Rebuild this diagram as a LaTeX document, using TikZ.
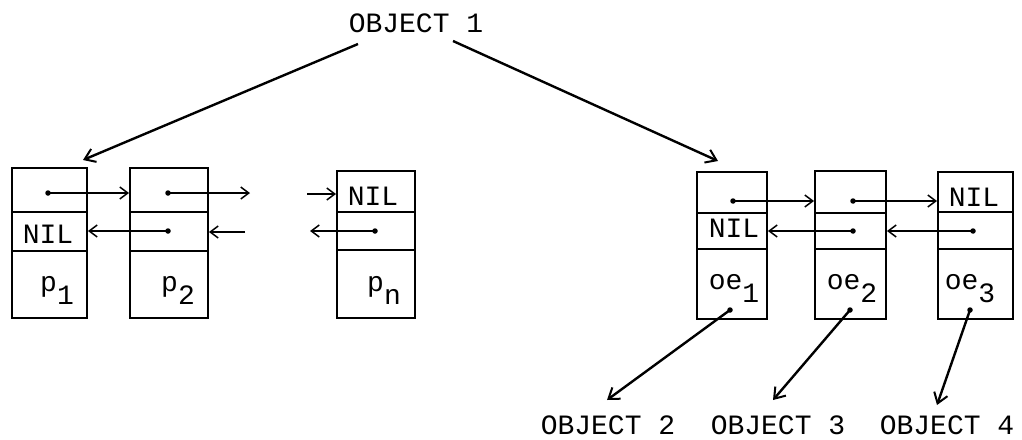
\documentclass[tikz,border=0pt]{standalone}
\usepackage{fontspec}
\setmonofont{Liberation Mono}
\usetikzlibrary{arrows.meta,fit}

% one list element: three stacked cells (pointer, back pointer, value)
\newcommand\listcell[7]{%
  \node[cell, fit={(#2,#4) (#3,#5)}] (#1t) {};
  \node[cell, fit={(#2,#5) (#3,#6)}] (#1m) {};
  \node[cell, fit={(#2,#6) (#3,#7)}] (#1b) {};}
% typewriter-style subscript: same size, dropped below the line
\newcommand\lowered[1]{\raisebox{-13pt}{#1}}

\tikzset{
  cell/.style={draw, line width=1.9pt, inner sep=0pt},
  tw/.style={font=\fontsize{28}{32}\selectfont\ttfamily, inner sep=0pt, anchor=base},
  dot/.style={circle, fill, inner sep=0pt, minimum size=5.5pt},
  ptr/.style={line width=1.5pt, -{Straight Barb[length=8pt,width=12pt,line width=1.5pt]}},
  bigptr/.style={line width=2.4pt, -{Straight Barb[length=10pt,width=14pt,line width=2pt]}},
}

\begin{document}
\begin{tikzpicture}[x=1pt,y=-1pt]
\useasboundingbox (0,0) rectangle (1022,439);

% property list of the object
\listcell{p1}{12}{87}{168}{212}{251}{318}
\listcell{p2}{130}{208}{168}{212}{251}{318}
\listcell{pn}{337}{415}{171}{212}{250}{318}

% list of object elements
\listcell{q1}{697}{767}{172}{213}{249}{319}
\listcell{q2}{815}{886}{171}{213}{249}{319}
\listcell{q3}{938}{1013}{172}{212}{249}{319}

% cell contents
\node[tw] (nil1) at (48,243) {NIL};
\node[tw] (nil2) at (373,205) {NIL};
\node[tw] (nil3) at (734,237) {NIL};
\node[tw] (nil4) at (974,206) {NIL};

\node[tw] (lp1) at (57,291) {p\lowered{1}};
\node[tw] (lp2) at (178,291) {p\lowered{2}};
\node[tw] (lpn) at (384,291) {p\lowered{n}};
\node[tw] (lq1) at (734,289) {oe\lowered{1}};
\node[tw] (lq2) at (852,289) {oe\lowered{2}};
\node[tw] (lq3) at (970,289) {oe\lowered{3}};

% object names
\node[tw] (o1) at (416,32) {OBJECT 1};
\node[tw] (o2) at (608,434) {OBJECT 2};
\node[tw] (o3) at (778,434) {OBJECT 3};
\node[tw] (o4) at (947,434) {OBJECT 4};

% pointer origins
\node[dot] (p1d) at (48,193) {};
\node[dot] (p2d) at (168,193) {};
\node[dot] (p2e) at (168,231) {};
\node[dot] (pne) at (375,231) {};
\node[dot] (q1d) at (733,201) {};
\node[dot] (q2d) at (853,201) {};
\node[dot] (q2e) at (853,231) {};
\node[dot] (q3e) at (973,231) {};
\node[dot] (r1) at (730,310) {};
\node[dot] (r2) at (850,310) {};
\node[dot] (r3) at (970,310) {};

% free ends of the broken chain
\coordinate (p2out) at (250,193);
\coordinate (pnin) at (307,194);
\coordinate (p2in) at (245,232);
\coordinate (pnout) at (310,231);

% forward and backward links, property list
\draw[ptr] (p1d.center) -- (p1d.center -| p2t.west);
\draw[ptr] (p2d.center) -- (p2out);
\draw[ptr] (pnin) -- (pnin -| pnt.west);
\draw[ptr] (p2e.center) -- (p2e.center -| p1m.east);
\draw[ptr] (p2in) -- (p2in -| p2m.east);
\draw[ptr] (pne.center) -- (pnout);

% forward and backward links, element list
\draw[ptr] (q1d.center) -- (q1d.center -| q2t.west);
\draw[ptr] (q2d.center) -- (q2d.center -| q3t.west);
\draw[ptr] (q2e.center) -- (q2e.center -| q1m.east);
\draw[ptr] (q3e.center) -- (q3e.center -| q2m.east);

% object 1 points to both lists
\coordinate (o1l) at (358,44);
\coordinate (o1r) at (453,41);
\coordinate (p1top) at (83,160);
\coordinate (q1top) at (718,161);
\draw[bigptr] (o1l) -- (p1top);
\draw[bigptr] (o1r) -- (q1top);

% elements point to their objects
\coordinate (o2top) at (607,400);
\coordinate (o3top) at (773,400);
\coordinate (o4top) at (937,405);
\draw[bigptr] (r1.center) -- (o2top);
\draw[bigptr] (r2.center) -- (o3top);
\draw[bigptr] (r3.center) -- (o4top);
\end{tikzpicture}
\end{document}
